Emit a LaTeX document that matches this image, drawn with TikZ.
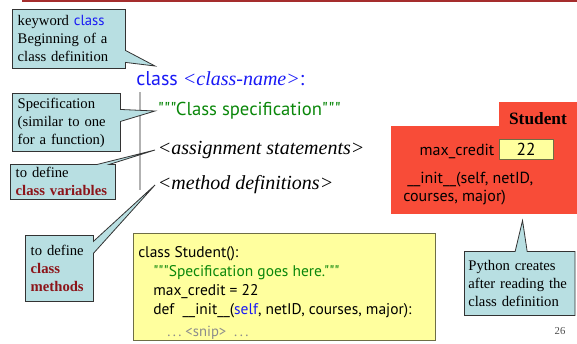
\documentclass[tikz,border=0pt]{standalone}
\usepackage{fontspec}
\setmainfont{Liberation Serif}
\newfontfamily\codefont{PT Sans}
\usetikzlibrary{shapes.callouts,calc,positioning}
\definecolor{calloutcyan}{RGB}{184,223,226}
\definecolor{kwblue}{RGB}{25,25,245}
\definecolor{strgreen}{RGB}{10,135,10}
\definecolor{varred}{RGB}{140,20,25}
\definecolor{objred}{RGB}{248,76,56}
\definecolor{codeyellow}{RGB}{255,255,158}
\definecolor{codeedge}{RGB}{110,110,70}
\definecolor{slidered}{RGB}{165,45,45}
\tikzset{
  callbox/.style={rectangle callout, fill=calloutcyan, draw=black!80, line width=0.6pt, align=left, anchor=north west,
    inner xsep=4pt, inner ysep=2pt, callout pointer width=9pt, font=\fontsize{11}{13.5}\selectfont},
  cline/.style={anchor=west, inner sep=2pt, font=\fontsize{15}{18}\selectfont\itshape},
  codeline/.style={anchor=base west, inner sep=0pt, font=\codefont\fontsize{11.6}{14}\selectfont},
  objline/.style={inner sep=0pt, font=\codefont\fontsize{12}{13.5}\selectfont},
  valbox/.style={fill=codeyellow, draw=codeedge, line width=0.6pt, minimum width=40.5pt, minimum height=15pt, inner sep=0pt, font=\codefont\fontsize{13}{15}\selectfont},
}
\newcommand{\kw}[1]{{\codefont\color{kwblue}#1}}
\newcommand{\hl}[1]{{\bfseries\color{varred}#1}}

\begin{document}
\begin{tikzpicture}[x=0.75pt, y=-0.75pt]
	\useasboundingbox (0,0) rectangle (577,343);
	\draw [slidered, line width=1.5pt] (22,1) -- (577,1);
	% class skeleton
	\node (cls) [anchor=west, inner sep=0pt, font=\fontsize{15}{18}\selectfont] at (136,79) {\kw{class} {\itshape\color{kwblue}<class-name>}\kw{:}};
	\node (spec) [cline, font=\codefont\fontsize{14}{17}\selectfont\color{strgreen}] at (155,111) {"""Class specification"""};
	\node (assign) [cline] at (155,150) {<assignment statements>};
	\node (meth) [cline] at (155,185) {<method definitions>};
	\draw [black!30, line width=1pt] (140,92) -- (140,190);
	\coordinate (clstip) at (155,66);
	% callouts
	\node (c1) [callbox, text width=76.75pt, minimum height=44.25pt, callout absolute pointer={(clstip)}] at (12,9)
		{keyword \kw{class}\\ Beginning of a\\ class definition};
	\node (c2) [callbox, text width=73pt, minimum height=43.5pt, callout absolute pointer={(spec.west)}] at (12,93)
		{Specification\\ (similar to one\\ for a function)};
	\node (c3) [callbox, text width=70.75pt, minimum height=26.25pt, callout absolute pointer={(assign.west)}] at (10,164)
		{to define\\ \hl{class variables}};
	\node (c4) [callbox, text width=43pt, minimum height=49.5pt, callout absolute pointer={(meth.west)}] at (25,235)
		{to define\\ \hl{class}\\ \hl{methods}};
	% code example
	\node (codebg) [fill=codeyellow, draw=codeedge, line width=0.6pt, anchor=north west, minimum width=226.5pt, minimum height=80.25pt] at (133,233) {};
	\node (l1) [codeline] at (138,257) {class Student():};
	\node (l2) [codeline, text=strgreen] at (153,276) {"""Specification goes here."""};
	\node (l3) [codeline] at (153,295) {max\_credit = 22};
	\node (l4) [codeline] at (153,314) {def \ \_\_init\_\_(\kw{self}, netID, courses, major):};
	\node (l5) [codeline, text=black!45, font=\codefont\fontsize{11}{13}\selectfont] at (167,336) {.\,.\,.\ <snip>\ \ .\,.\,.};
	% class object
	\node (obj) [fill=objred, anchor=north west, minimum width=139.5pt, minimum height=66pt, inner sep=0pt] at (391,126) {};
	\node (tab) [fill=objred, anchor=north west, minimum width=58.5pt, minimum height=19pt, inner sep=0pt] at (499,102) {};
	\node (stu) [font=\bfseries\fontsize{13}{15}\selectfont] at (538,119) {Student};
	\node (mc) [objline] at (457,151) {max\_credit};
	\node (val) [valbox] at (526,149.5) {22};
	\node (init) [objline, anchor=north west, align=left] at (403,172) {\hspace{3pt}\_\_init\_\_(self, netID,\\ courses, major)};
	\node (c5) [callbox, inner xsep=3pt, text width=77pt, minimum height=48pt, callout absolute pointer={($(obj.south east)+(-55,6)$)}] at (464,251)
		{Python creates\\ after reading the\\ class definition};
	\node (pg) [font=\fontsize{8}{9}\selectfont, text=black!70] at (560,331) {26};
\end{tikzpicture}
\end{document}
